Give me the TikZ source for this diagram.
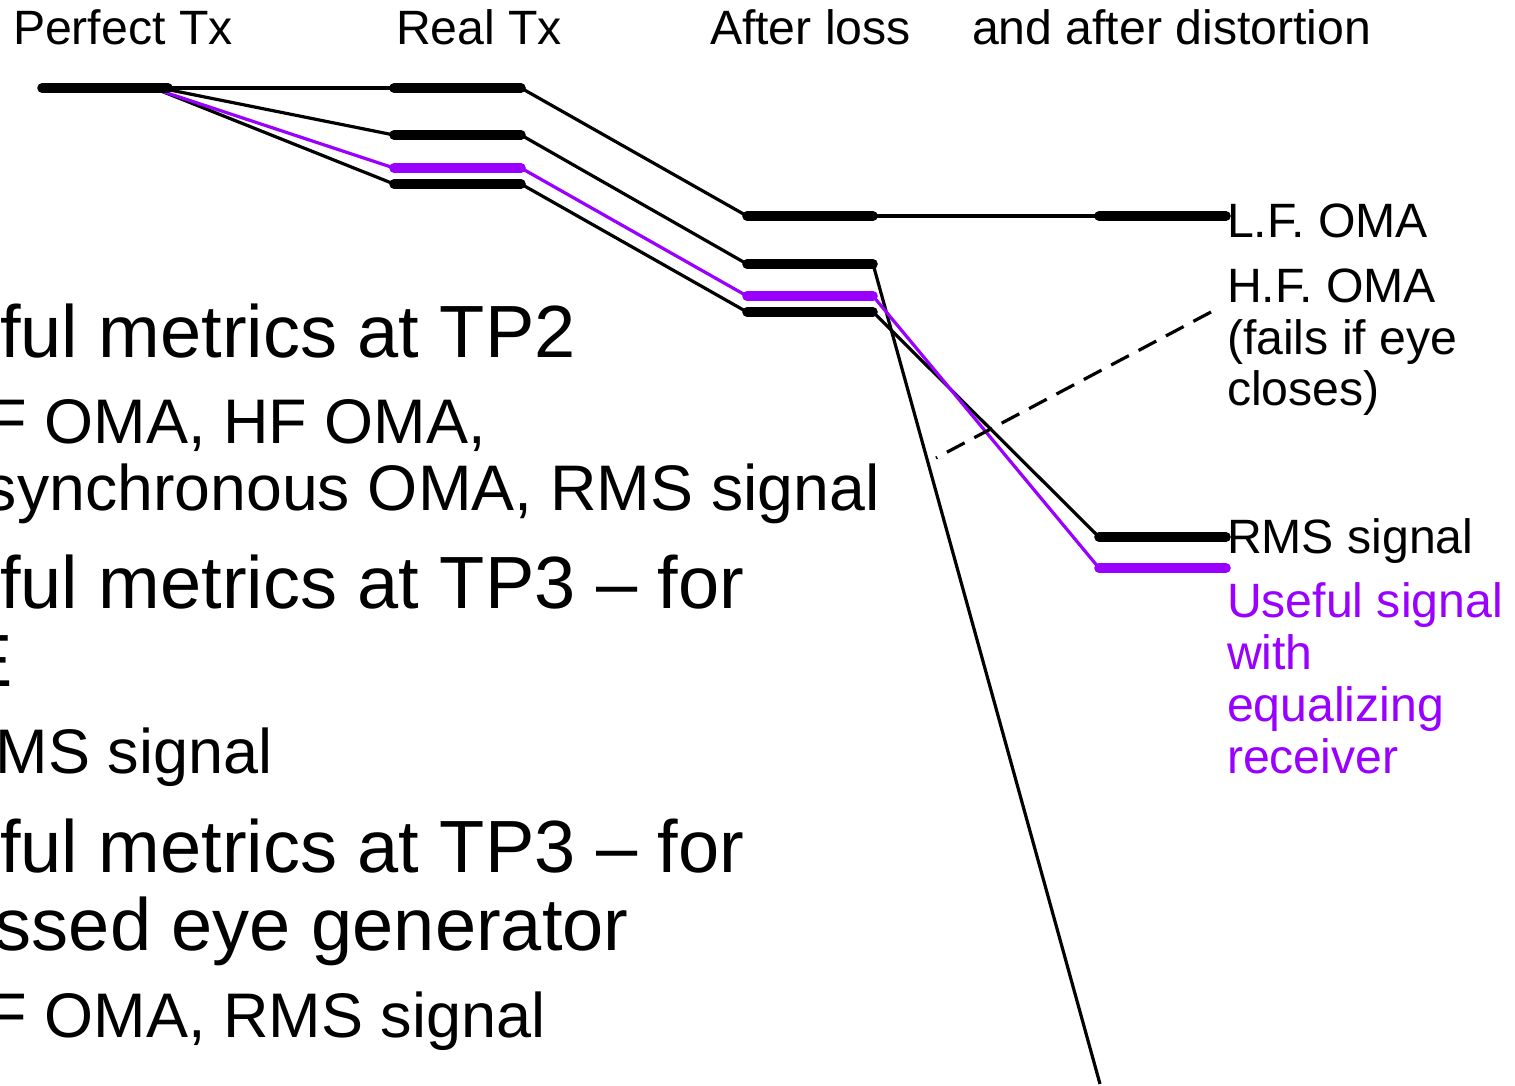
\documentclass[tikz,border=0pt]{standalone}
\usepackage{fontspec}
\setmainfont{Liberation Sans}
\definecolor{sigpurple}{RGB}{153,0,255}
\begin{document}
\begin{tikzpicture}[x=0.5pt,y=-0.5pt,
  bar/.style={line width=4.8pt, line cap=round},
  link/.style={line width=1.6pt},
  plink/.style={line width=1.6pt, draw=sigpurple},
  pbar/.style={bar, draw=sigpurple},
  dashlink/.style={line width=1.6pt, dash pattern=on 10pt off 5.5pt},
  hdr/.style={anchor=base west, inner sep=0pt, outer sep=0pt, font=\fontsize{24.1}{26}\selectfont},
  lbl/.style={hdr},
  plbl/.style={hdr, text=sigpurple},
  big/.style={anchor=base west, inner sep=0pt, outer sep=0pt, font=\fontsize{37}{44}\selectfont},
  med/.style={anchor=base west, inner sep=0pt, outer sep=0pt, font=\fontsize{31.5}{37}\selectfont}]
\useasboundingbox (0,0) rectangle (1515,1086);
\clip (0,0) rectangle (1515,1086);

% headers
\node[hdr] (h1) at (13,45) {Perfect Tx};
\node[hdr] (h2) at (396,45) {Real Tx};
\node[hdr] (h3) at (710,45) {After loss};
\node[hdr] (h4) at (972,45) {and after distortion};

% bar end points
\coordinate (P-l) at (42,88);  \coordinate (P-r) at (168,88);
\coordinate (P-a) at (165,89); \coordinate (P-b) at (152,88); \coordinate (P-c) at (156,89);
\coordinate (R1-l) at (394,88);  \coordinate (R1-r) at (521,88);
\coordinate (R2-l) at (394,135); \coordinate (R2-r) at (521,135);
\coordinate (R3-l) at (394,168); \coordinate (R3-r) at (521,168);
\coordinate (R4-l) at (394,184); \coordinate (R4-r) at (521,184);
\coordinate (A1-l) at (747,216); \coordinate (A1-r) at (873,216);
\coordinate (A2-l) at (747,264); \coordinate (A2-r) at (873,264);
\coordinate (A3-l) at (747,296); \coordinate (A3-r) at (873,296);
\coordinate (A4-l) at (747,312); \coordinate (A4-r) at (873,312);
\coordinate (D1-l) at (1099,216); \coordinate (D1-r) at (1226,216);
\coordinate (D2-l) at (1099,537); \coordinate (D2-r) at (1226,537);
\coordinate (D3-l) at (1099,568); \coordinate (D3-r) at (1226,568);
\coordinate (fall) at (1100,1084);
\coordinate (dsh-a) at (1211,312); \coordinate (dsh-b) at (936,458);

% connectors
\draw[link] (P-r) -- (R1-l);
\draw[link] (P-a) -- (R2-l);
\draw[link] (P-c) -- (R4-l);
\draw[plink] (P-b) -- (R3-l);
\draw[link] (R1-r) -- (A1-l);
\draw[link] (R2-r) -- (A2-l);
\draw[link] (R4-r) -- (A4-l);
\draw[plink] (R3-r) -- (A3-l);
\draw[link] (A1-r) -- (D1-l);
\draw[link] (A2-r) -- (fall);
\draw[link] (A4-r) -- (D2-l);
\draw[plink] (A3-r) -- (D3-l);
\draw[dashlink] (dsh-a) -- (dsh-b);

% bars
\draw[bar] (P-l) -- (P-r);
\draw[bar] (R1-l) -- (R1-r);
\draw[bar] (R2-l) -- (R2-r);
\draw[pbar] (R3-l) -- (R3-r);
\draw[bar] (R4-l) -- (R4-r);
\draw[bar] (A1-l) -- (A1-r);
\draw[bar] (A2-l) -- (A2-r);
\draw[pbar] (A3-l) -- (A3-r);
\draw[bar] (A4-l) -- (A4-r);
\draw[bar] (D1-l) -- (D1-r);
\draw[bar] (D2-l) -- (D2-r);
\draw[pbar] (D3-l) -- (D3-r);

% right labels
\node[lbl] (lf) at (1227,237) {L.F. OMA};
\node[lbl] (hf1) at (1227,302) {H.F. OMA};
\node[lbl] (hf2) at (1227,354) {(fails if eye};
\node[lbl] (hf3) at (1227,405) {closes)};
\node[lbl] (rms) at (1227,553) {RMS signal};
\node[plbl] (us1) at (1227,617) {Useful signal};
\node[plbl] (us2) at (1227,669) {with};
\node[plbl] (us3) at (1227,721) {equalizing};
\node[plbl] (us4) at (1227,773) {receiver};

% left text (cut by the picture edge)
\node[big] (t1) at (0,357) {ful metrics at TP2};
\node[med] (t2) at (-11,443) {F OMA, HF OMA,};
\node[med, font=\fontsize{32.2}{37}\selectfont] (t3) at (-15,510) {synchronous OMA, RMS signal};
\node[big] (t4) at (0,608) {ful metrics at TP3 – for};
\node[big] (t5) at (-36,686) {E};
\node[med] (t6) at (-4,773) {MS signal};
\node[big] (t7) at (0,872) {ful metrics at TP3 – for};
\node[big] (t8) at (-5,950) {ssed eye generator};
\node[med] (t9) at (-11,1037) {F OMA, RMS signal};
\end{tikzpicture}
\end{document}
